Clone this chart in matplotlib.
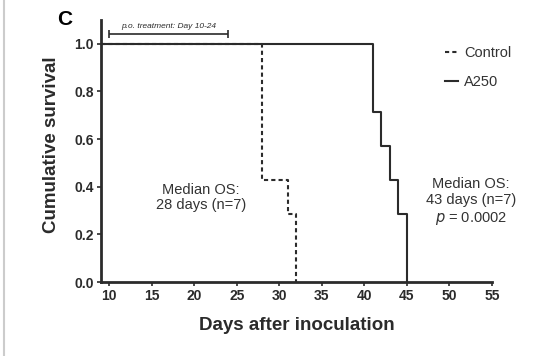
import matplotlib
matplotlib.use("Agg")
import matplotlib.pyplot as plt
from matplotlib.lines import Line2D

plt.rcParams['font.family'] = ['Liberation Sans', 'DejaVu Sans']

# Kaplan-Meier step data
control_days = [9.05, 28, 31, 32]
control_surv = [1.0, 3/7, 2/7, 0.0]
a250_days = [9.05, 41, 42, 43, 44, 45]
a250_surv = [1.0, 5/7, 4/7, 3/7, 2/7, 0.0]

x_ticks = [10, 15, 20, 25, 30, 35, 40, 45, 50, 55]
y_ticks = [0.0, 0.2, 0.4, 0.6, 0.8, 1.0]
treat_start, treat_end = 10, 24

col = '#2b2b2b'
tcol = '#333333'
fig = plt.figure(figsize=(5.53, 3.56), dpi=100)
ax = fig.add_axes([101/553, (356-282)/356, (492-101)/553, (282-20)/356])

ax.step(control_days, control_surv, where='post', color=col, lw=1.5, ls=(0, (2, 1.5)))
ax.step(a250_days, a250_surv, where='post', color=col, lw=1.5)

ax.set_xlim(9.05, 55)
ax.set_ylim(0, 1.1)
ax.set_xticks(x_ticks)
ax.set_yticks(y_ticks)
ax.set_yticklabels([f"{v:.1f}" for v in y_ticks])
for lab in ax.get_xticklabels() + ax.get_yticklabels():
    lab.set_fontweight('bold')
    lab.set_fontsize(10)
    lab.set_color(col)
ax.tick_params(length=3, width=1.2, color=col, pad=2)
for s in ['top', 'right']:
    ax.spines[s].set_visible(False)
for s in ['left', 'bottom']:
    ax.spines[s].set_linewidth(2)
    ax.spines[s].set_color(col)

ax.set_xlabel('Days after inoculation', fontsize=13.5, fontweight='bold', color=col, labelpad=10)
ax.set_ylabel('Cumulative survival', fontsize=13.5, fontweight='bold', color=col, labelpad=4)
ax.yaxis.set_label_coords(-0.106, 0.523)

# treatment bar
ax.errorbar([(treat_start + treat_end) / 2], [1.042], xerr=[(treat_end - treat_start) / 2],
            color=col, capsize=3, lw=1.2, capthick=1.2, fmt='none')
ax.text((treat_start + treat_end) / 2, 1.056, 'p.o. treatment: Day 10-24', ha='center', va='bottom',
        fontsize=6, style='italic', color=col)

ax.text(20.8, 0.355, 'Median OS:\n28 days (n=7)', ha='center', va='center', fontsize=10.5,
        color=tcol, linespacing=1.15)
ax.text(52.5, 0.336, 'Median OS:\n43 days (n=7)\n$p$ = 0.0002', ha='center', va='center', fontsize=10.5,
        color=tcol, linespacing=1.2)

handles = [Line2D([], [], color=col, lw=1.5, ls=(0, (2, 1.5))),
           Line2D([], [], color=col, lw=1.5)]
ax.legend(handles, ['Control', 'A250'], loc='upper left', bbox_to_anchor=(0.845, 0.95),
          frameon=False, handlelength=0.9, handletextpad=0.45, labelspacing=1.0, fontsize=10.5,
          labelcolor=tcol)

fig.text(57/553, 1 - 19.5/356, 'C', fontsize=15, fontweight='bold', va='center', ha='left', color='black')
fig.add_artist(Line2D([3.5/553, 3.5/553], [0, 1], color='#cccccc', lw=1.5, transform=fig.transFigure))

fig.savefig('out.png', dpi=100)
